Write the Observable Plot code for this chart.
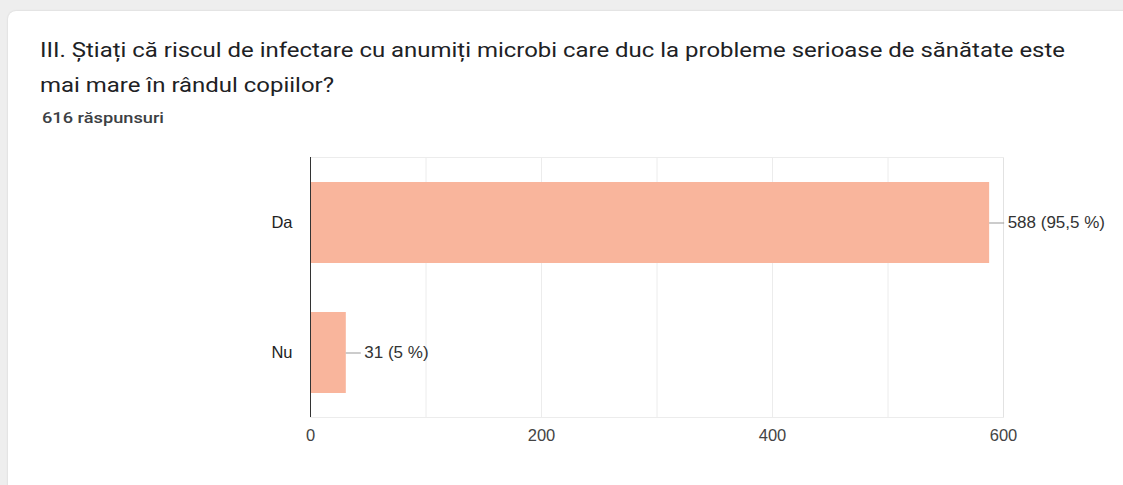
<!DOCTYPE html>
<html>
<head>
<meta charset="utf-8">
<script src="https://cdn.jsdelivr.net/npm/d3@7"></script>
<script src="https://cdn.jsdelivr.net/npm/@observablehq/plot@0.6"></script>
<style>
  html, body { margin: 0; padding: 0; width: 1123px; height: 485px; overflow: hidden; background: #eeeeee; }
  #card { position: absolute; left: 8px; top: 11px; width: 1125px; height: 490px; background: #fff; border-radius: 8px; box-shadow: 0 0 2px rgba(0,0,0,0.15); }
  .hdr { position: absolute; left: 40px; font-family: Roboto, sans-serif; color: #202124; white-space: nowrap; line-height: 1; transform-origin: 0 0; }
  .t { font-size: 19.5px; }
  #t1 { top: 41px; }
  #t2 { top: 76px; }
  #sub { top: 112px; left: 42px; font-size: 14.5px; font-weight: 500; color: #3c4043; }
  #chart { position: absolute; left: 0; top: 140px; }
</style>
</head>
<body>
<div id="card"></div>
<div id="t1" class="hdr t">III. Știați că riscul de infectare cu anumiți microbi care duc la probleme serioase de sănătate este</div>
<div id="t2" class="hdr t">mai mare în rândul copiilor?</div>
<div id="sub" class="hdr">616 răspunsuri</div>
<div id="chart"></div>
<script>
const answers = ["Da", "Nu"];
const counts = [588, 31];
const labels = ["588 (95,5 %)", "31 (5 %)"];
const xTicks = [0, 200, 400, 600];
const gridValues = [100, 200, 300, 400, 500];

const data = answers.map((a, i) => ({answer: a, count: counts[i], label: labels[i]}));

const chart = Plot.plot({
  width: 1123,
  height: 345,
  marginLeft: 310,
  marginRight: 120,
  marginTop: 17,
  marginBottom: 68,
  style: {fontFamily: "Arial, 'Liberation Sans', sans-serif", fontSize: "16.5px", background: "transparent"},
  x: {domain: [0, 600], ticks: xTicks, label: null},
  y: {domain: answers, paddingInner: 0.38, paddingOuter: 0.19, label: null},
  marks: [
    Plot.ruleX(gridValues, {stroke: "#ececec", strokeWidth: 1}),
    Plot.ruleX([600], {stroke: "#e2e2e2", strokeWidth: 1}),
    Plot.frame({anchor: "top", stroke: "#ececec"}),
    Plot.frame({anchor: "bottom", stroke: "#ececec"}),
    Plot.barX(data, {y: "answer", x: "count", fill: "#f9b59c"}),
    Plot.ruleY(data, {y: "answer", x1: "count", x2: d => d.count + 13, stroke: "#999", strokeWidth: 1}),
    Plot.text(data, {y: "answer", x: "count", text: "label", dx: 18, textAnchor: "start", fill: "#333", fontSize: 17}),
    Plot.ruleX([0], {stroke: "#333", strokeWidth: 1}),
    Plot.axisX({ticks: xTicks, tickSize: 0, tickPadding: 12, fill: "#444", fontSize: 16.5, label: null}),
    Plot.axisY({tickSize: 0, tickPadding: 18, fill: "#222", fontSize: 16.5, label: null})
  ]
});
document.getElementById("chart").appendChild(chart);

// fit header widths to the reference's wide sans-serif
function fit(id, target) {
  const el = document.getElementById(id);
  const w = el.getBoundingClientRect().width;
  return target / w;
}
const s = fit("t1", 1025);
document.getElementById("t1").style.transform = `scaleX(${s})`;
document.getElementById("t2").style.transform = `scaleX(${s})`;
const s2 = fit("sub", 122);
document.getElementById("sub").style.transform = `scaleX(${s2})`;
</script>
</body>
</html>
